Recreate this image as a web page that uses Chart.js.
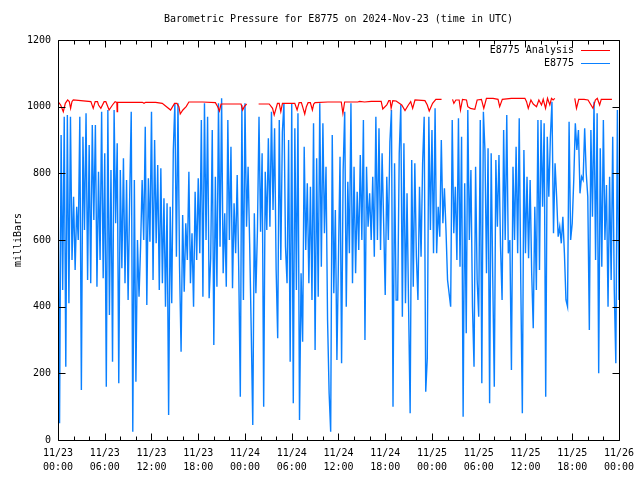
<!DOCTYPE html>
<html>
<head>
<meta charset="utf-8">
<script src="https://cdn.jsdelivr.net/npm/chart.js@4.4.1/dist/chart.umd.min.js"></script>
<style>
html,body{margin:0;padding:0;background:#ffffff;}
#wrap{width:640px;height:480px;}
</style>
</head>
<body>
<div id="wrap"><canvas id="c" width="640" height="480"></canvas></div>
<script>
// ---------------- DATA ----------------
const chartTitle = 'Barometric Pressure for E8775 on 2024-Nov-23 (time in UTC)';
const yAxisTitle = 'milliBars';
const seriesNames = ['E8775 Analysis', 'E8775'];

// x tick labels (every 6 hours from 11/23 00:00)
const xTickLabels = [
  ['11/23','00:00'], ['11/23','06:00'], ['11/23','12:00'], ['11/23','18:00'],
  ['11/24','00:00'], ['11/24','06:00'], ['11/24','12:00'], ['11/24','18:00'],
  ['11/25','00:00'], ['11/25','06:00'], ['11/25','12:00'], ['11/25','18:00'],
  ['11/26','00:00']
];
const yTickValues = [0, 200, 400, 600, 800, 1000, 1200];

// Station E8775 observations, one every 12 minutes starting 11/23 00:00 (hours)
const stationStepHours = 0.2;
const stationValues = [
  830, 50, 915, 450, 970, 220, 975, 410, 970, 540,
  730, 510, 700, 600, 970, 150, 910, 630, 980, 480,
  885, 470, 945, 660, 945, 460, 805, 540, 985, 485,
  860, 160, 990, 375, 810, 235, 990, 650, 890, 170,
  810, 515, 845, 470, 780, 420, 730, 985, 25, 780,
  175, 600, 430, 580, 780, 600, 940, 405, 785, 595,
  985, 480, 900, 590, 825, 450, 815, 470, 725, 400,
  710, 75, 700,
  410, 870, 1010, 550, 1010, 520, 265, 675, 445, 650,
  540, 805, 470, 620, 400, 745, 540, 785, 560, 960,
  430, 1010, 600, 970, 425, 545, 930, 285, 790, 460,
  1010, 580, 1025, 500, 680, 460, 960, 600, 880, 455,
  710, 560, 795, 510, 130, 1005, 420, 1010, 640, 820,
  590, 330, 45, 680, 440, 630, 970, 625, 860, 100,
  805, 630, 905, 640, 985, 690, 935, 510, 305, 960,
  540, 925,
  1010, 580, 470, 900, 235, 1010, 110, 935, 450, 980,
  60, 500, 295, 880, 570, 770, 470, 760, 420, 950,
  270, 845, 430, 1010, 520, 950, 620, 820, 360, 140,
  25, 915, 440, 690, 240, 550, 850, 230, 810, 985,
  400, 775, 560, 1010, 470, 820, 500, 745, 570, 855,
  600, 960, 300, 820, 640, 740, 600, 790, 550, 970,
  600, 935, 570, 860, 650, 435, 790, 600, 895, 990,
  100, 830, 420,
  420, 860, 1005, 370, 890, 410, 740, 400, 80, 840,
  460, 830, 550, 420, 760, 550, 830, 970, 145, 245,
  970, 630, 930, 560, 995, 560, 700, 610, 900, 650,
  755, 630, 480, 440, 400, 960, 620, 760, 540, 965,
  520, 910, 70, 770, 320, 990, 600, 810, 400, 220,
  820, 480, 370, 960, 170, 985, 870, 500, 875, 110,
  860, 490, 160, 840, 640, 855, 580, 420, 930, 600,
  975, 560, 600,
  210, 820, 600, 880, 560, 965, 470, 80, 870, 560,
  790, 545, 780, 500, 335, 700, 450, 960, 510, 960,
  700, 950, 130, 910, 730, 910, 1015, 620, 830, 730,
  610, 640, 590, 670, 560, 420, 400, 955, 600, 650,
  780, 950, 870, 930, 740, 790, 780, 935, 800, 730,
  330, 930, 670, 1015, 540, 980, 200, 875, 520, 960,
  600, 765, 400, 790, 480, 910, 450, 230, 990, 420
];

// Analysis series (hours since 11/23 00:00, value); null = no analysis
const analysisHours = [
  0, 0.34, 0.68, 0.94, 1.24, 1.45, 1.62, 1.79, 1.96, 4.22,
  4.52, 4.77, 5.07, 5.2, 5.5, 5.92, 6.14, 6.56, 6.99, 7.33,
  7.55, 7.59, 7.63, 7.67, 10.83, 11.04, 11.25, 12.53, 13.38, 13.81,
  14.45, 14.96, 15.26, 15.52, 15.69, 16.03, 16.45, 16.8, 18.58, 20.2,
  20.5, 20.72, 20.93, 23.5, 23.7, 23.91, 24.21, 25.0, 25.75, 27.11,
  27.54, 27.75, 28.17, 28.39, 28.6, 28.81, 30.39, 30.69, 30.95, 31.24,
  31.46, 31.67, 31.88, 32.1, 32.39, 32.65, 32.82, 32.99, 34.65, 36.36,
  36.57, 36.79, 38.49, 38.71, 39.35, 40.2, 41.48, 41.69, 42.2, 42.46,
  42.63, 42.76, 42.97, 43.4, 44.12, 44.54, 44.97, 45.27, 45.52, 45.82,
  47.1, 47.4, 47.65, 48.08, 48.5, 49.23, 50.0, 50.64, 50.81, 51.07,
  51.49, 51.66, 51.92, 52.43, 52.6, 52.94, 53.5, 53.8, 54.35, 54.65,
  54.99, 55.84, 56.48, 56.69, 57.03, 58.18, 59.93, 60.14, 60.36, 60.7,
  61.0, 61.42, 61.72, 62.06, 62.28, 62.58, 62.83, 63.13, 63.34, 63.55,
  63.77, 65.0, 66.33, 66.55, 66.84, 67.52, 68.03, 68.67, 68.97, 69.22,
  69.52, 69.73, 71.1
];
const analysisValues = [
  1015, 1005, 985, 1010, 1020, 1015, 995, 1015, 1020, 1015,
  995, 1015, 1015, 1005, 995, 1015, 1015, 990, 1005, 1015,
  1013, 985, 985, 1013, 1013, 1010, 1013, 1013, 1010, 1002,
  990, 1010, 1010, 1000, 978, 990, 1000, 1014, 1014, 1012,
  1000, 987, 1008, 1008, 990, 1000, 1008, null, 1008, 1008,
  995, 975, 1010, 1010, 985, 1010, 1010, 990, 1012, 1012,
  995, 978, 1000, 1012, 1012, 990, 1008, 1012, 1014, 1014,
  980, 1014, 1014, 1016, 1014, 1016, 1016, 993, 1005, 1018,
  1018, 995, 1018, 1017, 1005, 988, 1005, 1015, 995, 1020,
  1018, 1005, 987, 1010, 1022, 1022, null, 1022, 1010, 1020,
  1020, 990, 1022, 1020, 1000, 995, 992, 1020, 1022, 995,
  1025, 1025, 1022, 1000, 1022, 1025, 1025, 1015, 995, 1020,
  1008, 1000, 1020, 1005, 1022, 995, 1025, 1005, 1025, 1020,
  1025, null, 1025, 995, 1022, 1022, 1020, 995, 1020, 1025,
  1005, 1022, 1022
];

// ---------------- STYLE ----------------
const FONT_FAMILY = "'DejaVu Sans Mono', 'Liberation Mono', monospace";
const FONT_SIZE = 10;
const RED = '#ff0000';
const BLUE = '#0a80ff';

const stationPoints = stationValues.map((v, i) => ({ x: i * stationStepHours, y: v }));
const analysisPoints = analysisHours.map((h, i) => ({ x: h, y: analysisValues[i] }));

const decor = {
  id: 'decor',
  afterDraw(chart) {
    const { ctx, chartArea: a, scales: { x, y } } = chart;
    ctx.save();
    ctx.strokeStyle = '#000';
    ctx.lineWidth = 1;
    const L = Math.round(a.left) + 0.5, R = Math.round(a.right) + 0.5;
    const T = Math.round(a.top) + 0.5, B = Math.round(a.bottom) + 0.5;
    ctx.beginPath();
    ctx.moveTo(L, T); ctx.lineTo(R, T); ctx.lineTo(R, B); ctx.lineTo(L, B); ctx.closePath();
    for (let h = 0; h <= 72; h += 2) {
      const px = Math.round(x.getPixelForValue(h)) + 0.5;
      const len = (h % 6 === 0) ? 7 : 4;
      ctx.moveTo(px, B); ctx.lineTo(px, B - len);
      ctx.moveTo(px, T); ctx.lineTo(px, T + len);
    }
    for (const v of yTickValues) {
      const py = Math.round(y.getPixelForValue(v)) + 0.5;
      ctx.moveTo(L, py); ctx.lineTo(L + 7, py);
      ctx.moveTo(R, py); ctx.lineTo(R - 7, py);
    }
    ctx.stroke();

    // legend (gnuplot style: text then line sample, right aligned)
    ctx.font = FONT_SIZE + 'px ' + FONT_FAMILY;
    ctx.fillStyle = '#000';
    ctx.textAlign = 'right';
    ctx.textBaseline = 'middle';
    const colors = [RED, BLUE];
    seriesNames.forEach((name, i) => {
      const yy = 50 + i * 13;
      ctx.fillText(name, 574, yy);
      ctx.beginPath();
      ctx.strokeStyle = colors[i];
      ctx.moveTo(581, yy + 0.5);
      ctx.lineTo(610, yy + 0.5);
      ctx.stroke();
    });
    ctx.restore();
  }
};

Chart.defaults.font.family = FONT_FAMILY;
Chart.defaults.font.size = FONT_SIZE;
Chart.defaults.color = '#000';

new Chart(document.getElementById('c'), {
  type: 'line',
  data: {
    datasets: [
      {
        label: seriesNames[0],
        data: analysisPoints,
        borderColor: RED,
        backgroundColor: RED,
        borderWidth: 1.2,
        pointRadius: 0,
        tension: 0,
        spanGaps: false,
        fill: false
      },
      {
        label: seriesNames[1],
        data: stationPoints,
        borderColor: BLUE,
        backgroundColor: BLUE,
        borderWidth: 1.4,
        pointRadius: 0,
        tension: 0,
        fill: false
      }
    ]
  },
  options: {
    responsive: false,
    animation: false,
    devicePixelRatio: 1,
    layout: { padding: { left: 0, right: 19, top: 0, bottom: 0 } },
    plugins: {
      legend: { display: false },
      tooltip: { enabled: false },
      title: {
        display: true,
        text: chartTitle,
        fullSize: false,
        color: '#000',
        font: { family: FONT_FAMILY, size: FONT_SIZE, weight: 'normal', lineHeight: 1.2 },
        padding: { top: 13, bottom: 15 }
      }
    },
    scales: {
      x: {
        type: 'linear',
        min: 0,
        max: 72,
        grid: { display: false, drawTicks: false },
        border: { display: false },
        ticks: {
          stepSize: 6,
          autoSkip: false,
          maxRotation: 0,
          padding: 6,
          color: '#000',
          font: { family: FONT_FAMILY, size: FONT_SIZE, lineHeight: 1.4 },
          callback: (v) => xTickLabels[Math.round(v / 6)]
        },
        afterFit: (s) => { s.height = 40; }
      },
      y: {
        min: 0,
        max: 1200,
        grid: { display: false, drawTicks: false },
        border: { display: false },
        ticks: {
          stepSize: 200,
          padding: 7,
          color: '#000',
          font: { family: FONT_FAMILY, size: FONT_SIZE },
          callback: (v) => String(v)
        },
        title: {
          display: true,
          text: yAxisTitle,
          color: '#000',
          font: { family: FONT_FAMILY, size: FONT_SIZE, lineHeight: 1.2 },
          padding: { top: 12, bottom: 0 }
        },
        afterFit: (s) => { s.width = 58; }
      }
    }
  },
  plugins: [decor]
});
</script>
</body>
</html>
